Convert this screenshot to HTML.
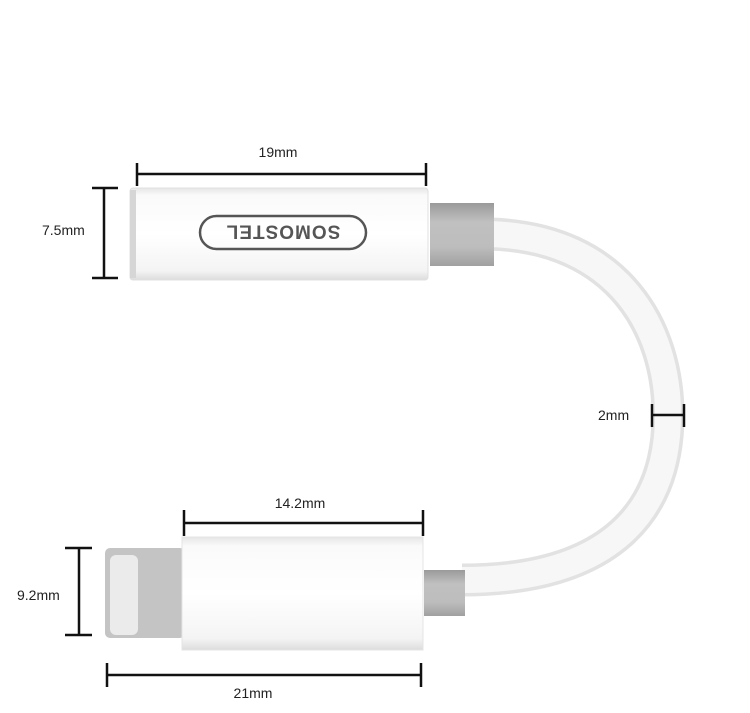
<!DOCTYPE html>
<html><head><meta charset="utf-8"><style>
html,body{margin:0;padding:0;background:#fff;width:750px;height:713px;overflow:hidden}
text{font-family:"Liberation Sans",sans-serif;font-size:14px;fill:#222}
</style></head><body>
<svg width="750" height="713" viewBox="0 0 750 713" xmlns="http://www.w3.org/2000/svg">
<defs>
<linearGradient id="body" x1="0" y1="0" x2="0" y2="1">
<stop offset="0" stop-color="#e6e6e6"/><stop offset="0.08" stop-color="#fafafa"/><stop offset="0.5" stop-color="#ffffff"/><stop offset="0.9" stop-color="#f4f4f4"/><stop offset="1" stop-color="#dcdcdc"/>
</linearGradient>
<linearGradient id="col" x1="0" y1="0" x2="0" y2="1">
<stop offset="0" stop-color="#9a9a9a"/><stop offset="0.3" stop-color="#c0c0c0"/><stop offset="0.7" stop-color="#bdbdbd"/><stop offset="1" stop-color="#a0a0a0"/>
</linearGradient>
</defs>
<path d="M490,234 C620,238 668,330 668,415 C668,520 600,580 462,580" fill="none" stroke="#e2e2e2" stroke-width="33"/>
<path d="M490,234 C620,238 668,330 668,415 C668,520 600,580 462,580" fill="none" stroke="#f7f7f7" stroke-width="26"/>
<rect x="430" y="203" width="64" height="63" fill="url(#col)"/>
<rect x="130" y="188" width="298" height="92" rx="3" fill="url(#body)" stroke="#e0e0e0"/>
<rect x="130" y="190" width="6" height="88" fill="#d6d6d6"/>
<rect x="200" y="216" width="166" height="33" rx="16.5" fill="none" stroke="#555" stroke-width="2.5"/>
<text x="283" y="239.5" text-anchor="middle" transform="rotate(180 283 232.5)" style="font-size:19px;font-weight:bold;fill:#555;letter-spacing:1px">SOMOSTEL</text>
<rect x="424" y="570" width="41" height="46" fill="url(#col)"/>
<rect x="105" y="548" width="80" height="90" rx="5" fill="#c4c4c4"/>
<rect x="110" y="555" width="28" height="80" rx="6" fill="#ebebeb"/>
<rect x="182" y="537" width="241" height="113" fill="url(#body)" stroke="#e4e4e4"/>
<g stroke="#111" stroke-width="2.5" fill="none">
<path d="M137,174H426M137,163V186M426,163V186"/>
<path d="M104,188V278M92,188H118M92,278H118"/>
<path d="M184,523H423M184,510V536M423,510V536"/>
<path d="M79,548V635M65,548H92M65,635H92"/>
<path d="M107,675H421M107,663V687M421,663V687"/>
<path d="M652,415H684M652,404V427M684,404V427"/>
</g>
<text x="278" y="157" text-anchor="middle">19mm</text>
<text x="42" y="235">7.5mm</text>
<text x="300" y="508" text-anchor="middle">14.2mm</text>
<text x="17" y="600">9.2mm</text>
<text x="253" y="698" text-anchor="middle">21mm</text>
<text x="598" y="420">2mm</text>
</svg>
</body></html>
